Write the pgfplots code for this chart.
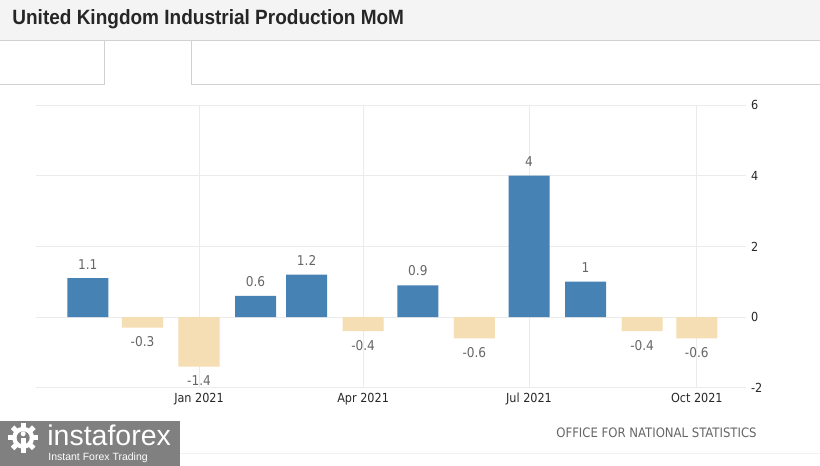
\documentclass[border=0pt]{standalone}
\usepackage{pgfplots}
\pgfplotsset{compat=1.18}
\usepackage{fontspec}
\setmainfont{DejaVu Sans Condensed}
\newfontfamily\titlefont{Liberation Sans}
\definecolor{barblue}{RGB}{70,130,180}
\definecolor{barwheat}{RGB}{245,222,179}
\definecolor{gridc}{RGB}{235,235,235}
\definecolor{labgray}{RGB}{102,102,102}
\definecolor{tickc}{RGB}{40,40,40}
\definecolor{bandc}{RGB}{244,244,244}
\definecolor{linec}{RGB}{210,210,210}
\definecolor{logoc}{RGB}{128,128,128}
\begin{document}
\begin{tikzpicture}[x=1bp,y=-1bp]
% canvas
\fill[white] (0,0) rectangle (820,466);
\fill[bandc] (0,0) rectangle (820,40);
\draw[linec] (0,40.5) -- (820,40.5);
\draw[linec] (0,84.5) -- (104.5,84.5) -- (104.5,40.5);
\draw[linec] (191.5,40.5) -- (191.5,84.5) -- (820,84.5);
\draw[gridc!70] (0,453.5) -- (820,453.5);
\node[anchor=west, inner sep=0, text=black!85] at (12,19) {\scalebox{0.975}[1.06]{\titlefont\fontsize{19.5bp}{22bp}\selectfont\bfseries United Kingdom Industrial Production MoM}};
% source
\node[anchor=east, inner sep=0, text=labgray] at (757,433) {\fontsize{13bp}{15bp}\selectfont OFFICE FOR NATIONAL STATISTICS};
% logo
\fill[logoc] (0,421) rectangle (180,466);
\node[anchor=base west, inner sep=0, text=white] at (47,446) {\titlefont\fontsize{28.5bp}{30bp}\selectfont instaforex};
\node[anchor=base west, inner sep=0, text=white] at (48,461) {\titlefont\fontsize{10.5bp}{12bp}\selectfont Instant Forex Trading};
\fill[white] (23,438) circle (11);
\foreach \a in {0,45,...,315} {\fill[white] (23,438) ++(\a:9) ++(\a+90:2.5) -- ++(\a:6) -- ++(\a-90:5) -- ++(\a+180:6) -- cycle;}
\fill[logoc] (23,438) circle (6.5);
\fill[white] (23,434) circle (2.5);
\fill[white] (20.5,438) rectangle (25.5,452);
\begin{axis}[
  at={(36bp,-388bp)}, anchor=south west,
  scale only axis, width=710bp, height=283bp,
  xmin=-28.3, xmax=360.9, ymin=-2, ymax=6,
  axis line style={draw=none},
  xtick={61,151,242,334},
  xticklabels={Jan 2021,Apr 2021,Jul 2021,Oct 2021},
  ytick={-2,0,2,4,6},
  yticklabel pos=right,
  xticklabel pos=bottom,
  grid=major,
  major grid style={gridc, line width=0.8bp},
  major tick length=0pt,
  tick style={draw=none},
  /pgf/number format/assume math mode=true,
  ticklabel style={font=\fontsize{12.5bp}{14bp}\selectfont, text=tickc},
  yticklabel style={anchor=west, inner sep=0, xshift=5bp},
  xticklabel style={anchor=north, inner sep=0, yshift=-5bp},
  clip=false,
]
\addplot[ybar, bar width=22.5, bar shift=0pt, draw=none, fill=barblue,
  nodes near coords, point meta=explicit symbolic,
  every node near coord/.append style={anchor=south, inner sep=0, yshift=9bp, text=labgray, font=\fontsize{13.5bp}{15bp}\selectfont}]
  table[meta=l] {
x y l
0 1.1 1.1
92 0.6 0.6
120 1.2 1.2
181 0.9 0.9
242 4 4
273 1 1
};
\addplot[ybar, bar width=22.5, bar shift=0pt, draw=none, fill=barwheat,
  nodes near coords, point meta=explicit symbolic,
  every node near coord/.append style={anchor=north, inner sep=0, yshift=-9bp, text=labgray, font=\fontsize{13.5bp}{15bp}\selectfont}]
  table[meta=l] {
x y l
30 -0.3 -0.3
61 -1.4 -1.4
151 -0.4 -0.4
212 -0.6 -0.6
304 -0.4 -0.4
334 -0.6 -0.6
};
\end{axis}
\end{tikzpicture}
\end{document}
